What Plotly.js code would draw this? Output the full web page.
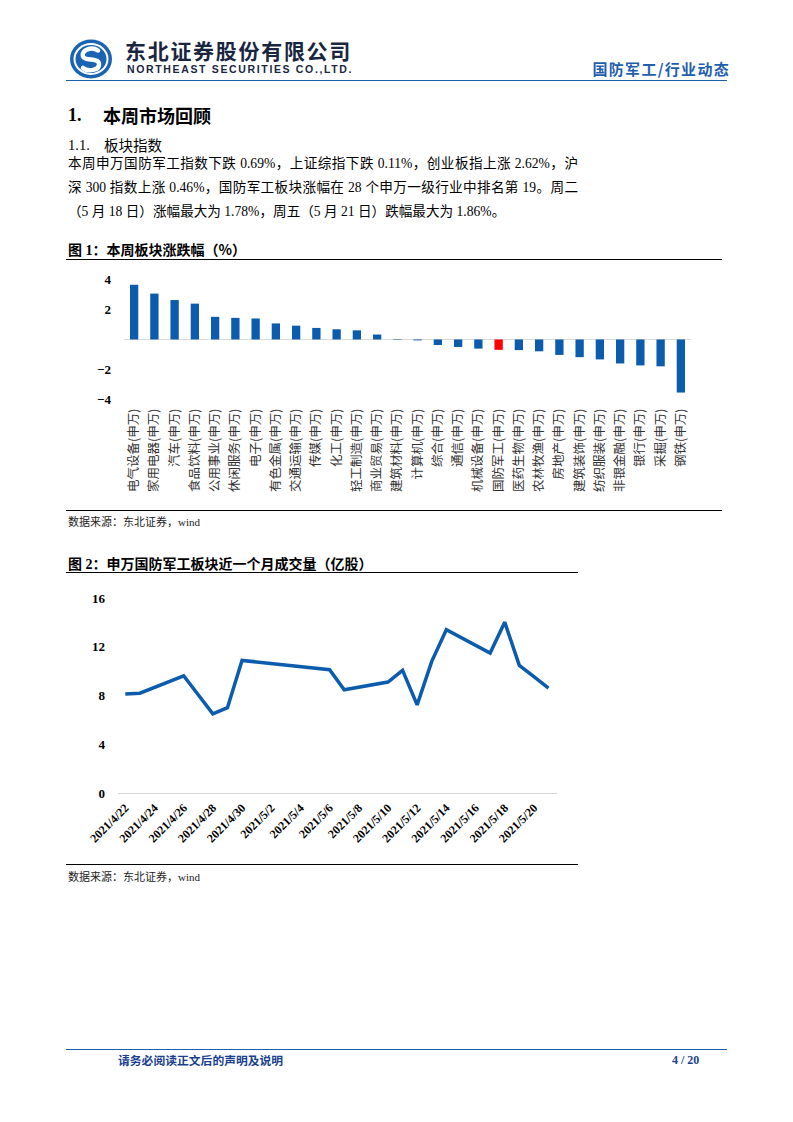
<!DOCTYPE html>
<html><head><meta charset="utf-8">
<script src="https://cdn.plot.ly/plotly-3.0.1.min.js"></script>
<style>
html,body{margin:0;padding:0;background:#fff;}
#page{position:relative;width:793px;height:1122px;overflow:hidden;background:#fff;font-family:"Liberation Serif","Noto Sans CJK SC",serif;color:#000;}
.abs{position:absolute;white-space:nowrap;}
.hl{position:absolute;height:0;}
.cjk{font-family:'Noto Sans CJK SC';}
</style></head>
<body><div id="page">
<svg class="abs" style="left:69px;top:39px" width="44" height="40" viewBox="0 0 44 40">
 <ellipse cx="22" cy="20" rx="21" ry="19.5" fill="#1b63b3"/>
 <ellipse cx="22" cy="20" rx="16.5" ry="15" fill="none" stroke="#fff" stroke-width="2"/>
 <path d="M29 11.5 C23 7.5,12 10.5,14 17.5 C16 22.5,29 18.5,30 24.5 C31 31.5,19 33,14 29" fill="none" stroke="#fff" stroke-width="4.5" stroke-linecap="round"/>
</svg>
<div class="abs cjk" style="left:125px;top:38px;font-weight:bold;font-size:21px;line-height:24px;letter-spacing:1.7px;color:#1a2640;">东北证券股份有限公司</div>
<div class="abs" style="left:127px;top:63px;font-family:'Liberation Sans';font-weight:bold;font-size:10.5px;line-height:12px;letter-spacing:1.65px;color:#1a2640;">NORTHEAST SECURITIES CO.,LTD.</div>
<div class="abs cjk" style="right:63px;top:60px;font-weight:bold;font-size:15px;line-height:18px;letter-spacing:1.3px;color:#1f5fae;">国防军工/行业动态</div>
<div class="hl" style="left:66px;top:80px;width:661px;border-top:1.6px solid #1a5fab;"></div>

<div class="abs" style="left:68px;top:103px;font-weight:bold;font-size:18px;line-height:24px;">1.</div>
<div class="abs cjk" style="left:103px;top:103px;font-weight:bold;font-size:18px;line-height:24px;">本周市场回顾</div>
<div class="abs" style="left:68px;top:134px;font-size:14.5px;line-height:22px;">1.1.</div>
<div class="abs cjk" style="left:104px;top:134px;font-size:14.5px;line-height:22px;">板块指数</div>
<div class="abs" style="left:68px;top:154px;width:510px;font-size:13.6px;line-height:20px;text-align:justify;text-align-last:justify;">本周申万国防军工指数下跌 0.69%，上证综指下跌 0.11%，创业板指上涨 2.62%，沪</div>
<div class="abs" style="left:68px;top:178px;width:510px;font-size:13.6px;line-height:20px;text-align:justify;text-align-last:justify;">深 300 指数上涨 0.46%，国防军工板块涨幅在 28 个申万一级行业中排名第 19。周二</div>
<div class="abs" style="left:68px;top:202px;font-size:13.6px;line-height:20px;">（5 月 18 日）涨幅最大为 1.78%，周五（5 月 21 日）跌幅最大为 1.86%。</div>

<div class="abs" style="left:68px;top:240px;font-size:14px;line-height:18px;font-weight:bold;"><span class="cjk">图</span> 1<span class="cjk">：本周板块涨跌幅（%）</span></div>
<div class="hl" style="left:66px;top:259px;width:656px;border-top:1.5px solid #000;"></div>
<div id="bar" class="abs" style="left:66px;top:262px;width:656px;height:248px;"></div>
<div class="hl" style="left:66px;top:510px;width:656px;border-top:1.5px solid #000;"></div>
<div class="abs" style="left:68px;top:513px;font-size:11px;line-height:16px;color:#222;"><span class="cjk">数据来源：东北证券，</span>wind</div>

<div class="abs" style="left:68px;top:554px;font-size:14px;line-height:18px;font-weight:bold;"><span class="cjk">图</span> 2<span class="cjk">：申万国防军工板块近一个月成交量（亿股）</span></div>
<div class="hl" style="left:66px;top:572px;width:512px;border-top:1.5px solid #000;"></div>
<div id="line" class="abs" style="left:66px;top:575px;width:512px;height:290px;"></div>
<div class="hl" style="left:66px;top:864px;width:512px;border-top:1.5px solid #000;"></div>
<div class="abs" style="left:68px;top:868px;font-size:11px;line-height:16px;color:#222;"><span class="cjk">数据来源：东北证券，</span>wind</div>

<div class="hl" style="left:66px;top:1049px;width:661px;border-top:1.6px solid #1a5fab;"></div>
<div class="abs cjk" style="left:118px;top:1052px;font-weight:bold;font-size:11.8px;line-height:16px;color:#1a3f8f;">请务必阅读正文后的声明及说明</div>
<div class="abs" style="left:672px;top:1052px;font-weight:bold;font-size:12px;line-height:16px;color:#1a3f8f;">4 / 20</div>
</div>
<script>
// Figure 1 data
const barCategories = ['电气设备(申万)','家用电器(申万)','汽车(申万)','食品饮料(申万)','公用事业(申万)','休闲服务(申万)','电子(申万)','有色金属(申万)','交通运输(申万)','传媒(申万)','化工(申万)','轻工制造(申万)','商业贸易(申万)','建筑材料(申万)','计算机(申万)','综合(申万)','通信(申万)','机械设备(申万)','国防军工(申万)','医药生物(申万)','农林牧渔(申万)','房地产(申万)','建筑装饰(申万)','纺织服装(申万)','非银金融(申万)','银行(申万)','采掘(申万)','钢铁(申万)'];
const barValues = [3.65,3.06,2.63,2.39,1.51,1.44,1.40,1.07,0.92,0.77,0.68,0.61,0.33,0.03,-0.06,-0.37,-0.50,-0.61,-0.69,-0.71,-0.79,-1.03,-1.18,-1.33,-1.60,-1.73,-1.79,-3.54];
const highlightCategory = '国防军工(申万)';
const barTicks = [-4,-2,2,4];

// Figure 2 data
const volDates = ['2021-04-22','2021-04-23','2021-04-26','2021-04-27','2021-04-28','2021-04-29','2021-04-30','2021-05-06','2021-05-07','2021-05-10','2021-05-11','2021-05-12','2021-05-13','2021-05-14','2021-05-17','2021-05-18','2021-05-19','2021-05-20','2021-05-21'];
const volValues = [8.13,8.19,9.62,8.1,6.49,7.0,10.88,10.12,8.47,9.10,10.06,7.23,10.8,13.4,11.49,14.02,10.47,9.55,8.6];
const volTickDates = ['2021-04-22','2021-04-24','2021-04-26','2021-04-28','2021-04-30','2021-05-02','2021-05-04','2021-05-06','2021-05-08','2021-05-10','2021-05-12','2021-05-14','2021-05-16','2021-05-18','2021-05-20'];
const volTicks = [0,4,8,12,16];

const BLUE = '#0b5cad';
const cfg = {staticPlot:true, displayModeBar:false};
const numFont = {family:'Liberation Serif', size:13, color:'#000', weight:'bold'};

Plotly.newPlot('bar', [{
  type:'bar', x:barCategories, y:barValues,
  marker:{color:barCategories.map(c => c===highlightCategory ? '#ff0000' : BLUE), line:{width:0}},
  hoverinfo:'none'
}], {
  width:656, height:248, margin:{l:58, r:31, t:13, b:108},
  paper_bgcolor:'rgba(0,0,0,0)', plot_bgcolor:'rgba(0,0,0,0)',
  bargap:0.59, showlegend:false,
  xaxis:{type:'category', tickangle:-90, ticks:'', showline:false, showgrid:false, zeroline:false,
         tickfont:{family:'Noto Sans CJK SC', size:12.5, color:'#333'}, ticklabelstandoff:3},
  yaxis:{range:[-4.17,4.3], tickvals:barTicks, ticks:'', showgrid:false, showline:false,
         zeroline:true, zerolinecolor:'#d9d9d9', zerolinewidth:1.2,
         tickfont:numFont, ticklabelstandoff:12}
}, cfg);

function fmtDate(s){ const p = s.split('-'); return p[0] + '/' + (+p[1]) + '/' + (+p[2]); }

Plotly.newPlot('line', [{
  type:'scatter', mode:'lines', x:volDates, y:volValues,
  line:{color:BLUE, width:3.5}, hoverinfo:'none'
}], {
  width:512, height:290, margin:{l:52, r:21, t:23, b:72},
  paper_bgcolor:'rgba(0,0,0,0)', plot_bgcolor:'rgba(0,0,0,0)', showlegend:false,
  xaxis:{type:'date', range:['2021-04-21 12:00','2021-05-21 14:00'], tickvals:volTickDates,
         ticktext:volTickDates.map(fmtDate), tickangle:-45, ticks:'', showgrid:false, zeroline:false,
         showline:true, linecolor:'#d9d9d9', linewidth:1.2,
         tickfont:{family:'Liberation Serif', size:12, color:'#000', weight:'bold'}, ticklabelstandoff:2},
  yaxis:{range:[0,16], tickvals:volTicks, ticks:'', showgrid:false, showline:false, zeroline:false,
         tickfont:numFont, ticklabelstandoff:12}
}, cfg);
</script>
</body></html>
